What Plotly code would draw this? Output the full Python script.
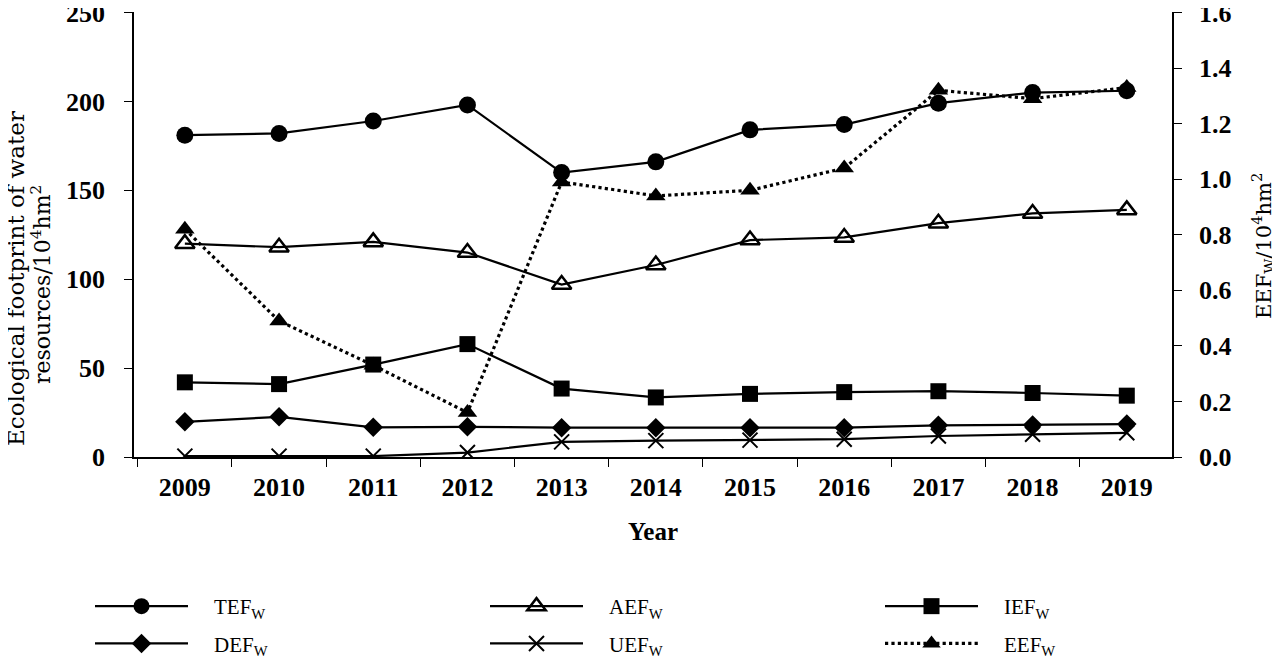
import plotly.graph_objects as go

years = ["2009", "2010", "2011", "2012", "2013", "2014", "2015", "2016", "2017", "2018", "2019"]
tef = [181, 182, 189, 198, 160, 166, 184, 187, 199, 205, 206]
aef = [120, 118, 121, 115, 97, 108, 122, 123.5, 131.5, 137, 139]
ief = [42, 41, 52, 63.5, 38.5, 33.5, 35.5, 36.5, 37, 36, 34.5]
def_ = [19.8, 22.6, 16.7, 17, 16.5, 16.5, 16.5, 16.5, 17.8, 18, 18.5]
uef = [0.5, 0.5, 0.5, 2.5, 8.5, 9.2, 9.5, 10, 11.8, 12.8, 13.6]
eef = [0.82, 0.49, 0.33, 0.16, 0.99, 0.94, 0.96, 1.04, 1.32, 1.29, 1.33]

left_ticks = [0, 50, 100, 150, 200, 250]
right_ticks = [0.0, 0.2, 0.4, 0.6, 0.8, 1.0, 1.2, 1.4, 1.6]

FONT = "Liberation Serif"
TFONT = "DejaVu Serif"
OFF = 8  # page body margin
W, H = 1280 - OFF, 662 - OFF
ML, MR, MT, MB = 134 - OFF, 108, 12 - OFF, 205
PW, PH = W - ML - MR, H - MT - MB
PAD = "&nbsp;" * 4

def px_x(x):
    return (x - OFF - ML) / PW

def px_y(y):
    return (H - MB - (y - OFF)) / PH

fig = go.Figure()

def add(name, y, symbol, size, legend, yaxis="y", dash="solid", mline=0, lw=2.2):
    fig.add_trace(go.Scatter(
        x=years, y=y, name=PAD + name, yaxis=yaxis, mode="lines+markers",
        legend=legend, legendgroup=name,
        line=dict(color="black", width=lw, dash=dash),
        marker=dict(symbol=symbol, size=size, color="black",
                    line=dict(color="black", width=mline)),
    ))

add("TEF<sub>W</sub>", tef, "circle", 17, "legend")
add("DEF<sub>W</sub>", def_, "diamond", 15, "legend")
add("AEF<sub>W</sub>", aef, "triangle-up-open", 17, "legend2", mline=2.5)
add("UEF<sub>W</sub>", uef, "x-thin-open", 15, "legend2", mline=2)
add("IEF<sub>W</sub>", ief, "square", 16, "legend3")
add("EEF<sub>W</sub>", eef, "triangle-up", 17, "legend3", yaxis="y2", dash="dot", lw=3.2)

axis_common = dict(showline=True, linecolor="black", linewidth=1.5,
                   ticks="outside", ticklen=8, tickcolor="black",
                   showgrid=False, zeroline=False, automargin=False,
                   ticklabeloverflow="allow")

def leg(xpx):
    return dict(
        orientation="v", xref="paper", yref="container",
        x=px_x(xpx), xanchor="left", y=1 - (586 - OFF) / H, yanchor="top",
        itemwidth=93, tracegroupgap=7,
        font=dict(family=FONT, size=21), bgcolor="rgba(0,0,0,0)",
    )

fig.update_layout(
    width=W, height=H,
    paper_bgcolor="white", plot_bgcolor="white",
    margin=dict(l=ML, r=MR, t=MT, b=MB),
    font=dict(family=FONT, color="black", size=20),
    xaxis=dict(
        type="category", range=[-0.54, 10.48], tickson="boundaries",
        tickfont=dict(family=FONT, size=26, weight="bold"), ticklabelstandoff=6,
        tickangle=0,
        title=dict(text="<b>Year</b>", font=dict(family=FONT, size=25), standoff=22),
        **axis_common,
    ),
    yaxis=dict(
        range=[0, 250.3], tickvals=left_ticks, ticklabelstandoff=14,
        tickfont=dict(family=FONT, size=26, weight="bold"),
        **axis_common,
    ),
    yaxis2=dict(
        range=[0, 1.602], tickvals=right_ticks, tickformat=".1f",
        overlaying="y", side="right", ticklabelstandoff=12,
        tickfont=dict(family=FONT, size=26, weight="bold"),
        **axis_common,
    ),
    legend=leg(90),
    legend2=leg(485),
    legend3=leg(880),
    annotations=[
        dict(text="Ecological footprint of water",
             xref="paper", yref="paper",
             x=px_x(16), y=px_y(279), xanchor="center", yanchor="middle",
             textangle=-90, showarrow=False, font=dict(family=TFONT, size=23)),
        dict(text="resources/10<sup>4</sup>hm<sup>2</sup>",
             xref="paper", yref="paper",
             x=px_x(41), y=px_y(285), xanchor="center", yanchor="middle",
             textangle=-90, showarrow=False, font=dict(family=TFONT, size=22)),
        dict(text="EEF<sub>W</sub>/10<sup>4</sup>hm<sup>2</sup>",
             xref="paper", yref="paper",
             x=px_x(1263), y=px_y(246), xanchor="center", yanchor="middle",
             textangle=-90, showarrow=False, font=dict(family=TFONT, size=21)),
    ],
)

fig.write_html("out.html")
